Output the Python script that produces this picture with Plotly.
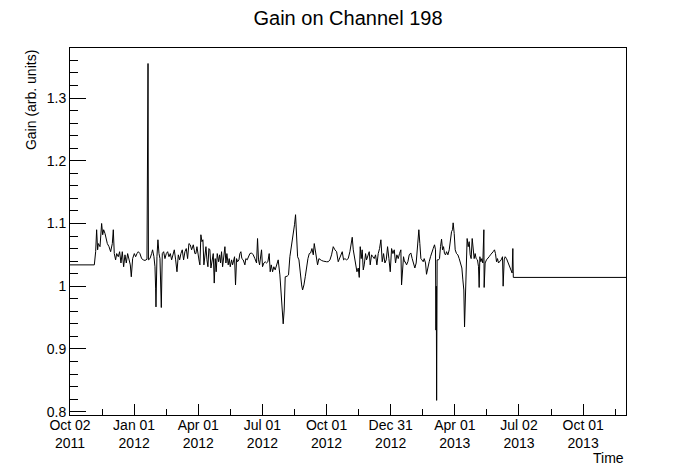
import pandas as pd
import plotly.graph_objects as go

# Gain readings, days counted from 2011-10-02 (start of the time axis)
START = pd.Timestamp("2011-10-02")
AXIS_END_DAY = 791

day_a = [0, 34.6, 36.5, 37.9, 39.3, 40.3, 42.7, 45.0, 46.5, 47.9,
         49.8, 51.2, 53.1, 55.5, 57.8, 60.2, 61.6, 63.0, 64.9, 66.4,
         68.7, 70.6, 72.5, 74.4, 76.3, 78.2, 80.1, 82.0, 83.9, 85.8,
         87.2, 89.1, 91.5, 93.4, 95.3, 97.2, 99.5, 101.9, 104.3, 106.7,
         109.5, 110.0, 110.5, 111.0, 111.6, 113.8, 116.1, 117.5, 119.4, 120.9,
         121.8, 122.3, 123.7, 125.1, 126.6, 128.0, 129.9, 131.3, 133.2, 135.1,
         137.0, 138.9, 140.8, 142.7, 144.6, 146.5, 148.4, 150.3, 152.2, 154.1,
         156.0, 157.8, 159.7, 161.6, 163.5, 165.4, 167.3, 169.2, 171.1, 173.0,
         175.4, 177.7]
gain_a = [1.034, 1.034, 1.055, 1.090, 1.058, 1.068, 1.063, 1.100, 1.082, 1.090,
          1.084, 1.074, 1.068, 1.063, 1.055, 1.068, 1.090, 1.052, 1.042, 1.052,
          1.047, 1.055, 1.037, 1.055, 1.031, 1.050, 1.037, 1.052, 1.044, 1.034,
          1.015, 1.044, 1.052, 1.047, 1.052, 1.055, 1.052, 1.044, 1.042, 1.041,
          1.043, 1.195, 1.045, 1.355, 1.042, 1.044, 1.052, 1.058, 1.047, 1.031,
          0.997, 0.967, 1.047, 1.074, 1.052, 1.044, 0.966, 1.052, 1.055, 1.044,
          1.052, 1.055, 1.047, 1.052, 1.042, 1.052, 1.058, 1.042, 1.023, 1.050,
          1.042, 1.052, 1.058, 1.042, 1.055, 1.060, 1.044, 1.068, 1.066, 1.058,
          1.066, 1.052]

day_b = [179.1, 180.6, 182.0, 183.9, 184.8, 186.2, 187.7, 189.1, 190.5, 191.9,
         193.4, 194.8, 196.2, 197.6, 199.0, 200.5, 201.9, 203.8, 205.2, 206.6,
         208.0, 209.5, 211.4, 212.8, 214.2, 215.6, 217.1, 219.0, 220.4, 221.8,
         223.2, 225.1, 226.5, 228.0, 229.9, 231.3, 232.7, 234.1, 235.5, 237.0,
         238.4, 240.3, 241.7, 243.1, 244.5, 246.4, 248.8, 250.2, 252.1, 254.0,
         255.9, 258.3, 260.7, 263.0, 265.4, 266.8, 268.2, 269.7, 271.1, 272.5,
         273.9, 275.8, 277.7, 279.6, 281.5, 283.4, 284.8, 286.3, 288.2, 290.0,
         291.9, 293.8, 296.2, 298.6, 300.0, 301.4, 303.3, 304.7, 306.2, 309.0,
         310.9, 312.8, 315.2, 317.5, 319.4, 320.9, 322.3]
gain_b = [1.052, 1.063, 1.050, 1.039, 1.034, 1.082, 1.071, 1.074, 1.034, 1.052,
          1.063, 1.042, 1.031, 1.060, 1.058, 1.029, 1.042, 1.052, 1.005, 1.044,
          1.023, 1.052, 1.039, 1.050, 1.037, 1.055, 1.031, 1.052, 1.063, 1.037,
          1.052, 1.034, 1.044, 1.031, 1.042, 1.034, 1.039, 1.047, 1.002, 1.044,
          1.039, 1.042, 1.052, 1.055, 1.044, 1.042, 1.034, 1.044, 1.042, 1.047,
          1.052, 1.053, 1.050, 1.044, 1.037, 1.076, 1.042, 1.034, 1.052, 1.058,
          1.031, 1.037, 1.039, 1.037, 1.039, 1.052, 1.023, 1.034, 1.023, 1.031,
          1.026, 1.034, 1.042, 1.018, 0.994, 0.978, 0.940, 0.962, 1.015, 1.016,
          1.018, 1.047, 1.063, 1.084, 1.098, 1.114, 1.090]

day_c = [323.8, 325.7, 327.6, 329.5, 330.9, 332.8, 334.7, 336.6, 338.5, 340.4,
         342.3, 344.2, 346.1, 347.5, 348.9, 350.3, 352.2, 354.1, 356.0, 357.9,
         360.3, 362.7, 365.0, 367.4, 369.8, 372.1, 374.5, 376.9, 379.3, 381.6,
         383.5, 385.4, 387.3, 389.2, 391.1, 393.5, 395.8, 398.2, 400.6, 401.5,
         403.0, 404.4, 406.3, 408.2, 410.1, 411.5, 412.9, 414.3, 415.7, 417.2,
         418.6, 420.5, 421.9, 423.8, 425.7, 427.1, 429.0, 430.9, 432.8, 434.7,
         436.6, 438.5, 440.4, 442.3, 444.2, 446.1, 448.0, 449.9, 451.8, 453.7,
         455.6, 457.5, 459.4, 461.3, 463.1, 465.0, 466.9, 468.8, 470.7, 471.7,
         473.1, 474.5, 475.9]
gain_c = [1.047, 1.042, 1.015, 1.002, 0.994, 1.002, 1.015, 1.031, 1.044, 1.052,
          1.053, 1.060, 1.050, 1.068, 1.058, 1.047, 1.034, 1.044, 1.042, 1.041,
          1.040, 1.039, 1.039, 1.039, 1.042, 1.050, 1.063, 1.058, 1.055, 1.039,
          1.044, 1.052, 1.055, 1.042, 1.044, 1.042, 1.044, 1.055, 1.071, 1.078,
          1.058, 1.047, 1.031, 1.023, 1.029, 1.014, 1.063, 1.044, 1.058, 1.026,
          1.034, 1.052, 1.042, 1.047, 1.055, 1.034, 1.050, 1.047, 1.044, 1.050,
          1.034, 1.052, 1.060, 1.074, 1.039, 1.052, 1.037, 1.042, 1.063, 1.044,
          1.023, 1.060, 1.052, 1.058, 1.037, 1.050, 1.044, 1.052, 1.058, 1.002,
          1.037, 1.047, 1.039]

day_d = [476.9, 478.8, 480.7, 482.6, 484.9, 486.8, 488.7, 490.6, 492.5, 494.4,
         496.3, 497.7, 499.2, 500.6, 502.5, 503.9, 505.8, 507.2, 509.1, 511.0,
         512.9, 514.8, 516.7, 518.6, 520.0, 520.6, 521.1, 521.6, 522.3, 524.3,
         525.7, 527.1, 528.6, 530.0, 531.4, 532.8, 534.2, 535.7, 537.6, 539.5,
         541.3, 542.8, 544.2, 545.1, 546.6, 548.0, 549.9, 551.8, 553.7, 555.6,
         557.5, 558.9, 560.3, 561.3, 562.2, 563.6, 565.0, 566.5, 567.9, 569.3,
         570.7, 572.2, 573.6, 575.0, 576.4, 577.8, 579.7, 581.2, 582.1, 583.1,
         584.5, 585.9, 587.3, 588.8, 589.2, 590.6, 592.5, 594.4, 596.3, 598.2,
         600.1, 602.0, 603.9, 605.3, 606.8, 608.2, 609.6, 611.5, 613.4, 615.3,
         616.2, 617.7, 619.1, 621.0, 622.9, 624.8, 626.2, 627.6, 629.0, 630.0,
         630.7, 791]
gain_d = [1.039, 1.034, 1.039, 1.050, 1.053, 1.044, 1.034, 1.029, 1.037, 1.063,
          1.090, 1.068, 1.044, 1.042, 1.039, 1.044, 1.037, 1.019, 1.031, 1.039,
          1.047, 1.052, 1.060, 1.066, 1.058, 0.930, 1.000, 0.818, 1.042, 1.042,
          1.044, 1.063, 1.075, 1.058, 1.063, 1.052, 1.050, 1.055, 1.050, 1.058,
          1.079, 1.087, 1.090, 1.101, 1.084, 1.058, 1.052, 1.050, 1.044, 1.037,
          1.029, 1.010, 0.994, 0.935, 0.978, 1.037, 1.076, 1.063, 1.071, 1.050,
          1.044, 1.076, 1.063, 1.044, 1.052, 1.044, 1.042, 1.031, 0.998, 1.047,
          1.039, 1.044, 1.037, 1.090, 0.998, 1.037, 1.042, 1.044, 1.047, 1.050,
          1.052, 1.055, 1.058, 1.052, 1.039, 1.044, 1.037, 1.039, 1.042, 1.047,
          1.000, 1.042, 1.047, 1.044, 1.039, 1.031, 1.029, 1.026, 1.021, 1.060,
          1.014, 1.014]

# time axis ticks (ROOT spaces them evenly, ~91.25 days apart)
tick_days = [0, 91.25, 182.5, 273.75, 365, 456.25, 547.5, 638.75, 730]
minor_tick_days = [45.6, 136.9, 228.1, 319.4, 410.6, 501.9, 593.1, 684.4, 775.6]
tick_labels = ["Oct 02<br>2011", "Jan 01<br>2012", "Apr 01<br>2012", "Jul 01<br>2012",
               "Oct 01<br>2012", "Dec 31<br>2012", "Apr 01<br>2013", "Jul 02<br>2013",
               "Oct 01<br>2013"]

days = day_a + day_b + day_c + day_d
gains = gain_a + gain_b + gain_c + gain_d
assert len(days) == len(gains)


def to_dates(d):
    return START + pd.to_timedelta(d, unit="D")


FONT = "Liberation Sans, Arial, sans-serif"
# the page body keeps the browser's 8px margin, so the figure is 8px smaller
W, H = 688, 464

fig = go.Figure()
fig.add_trace(go.Scatter(
    x=to_dates(days), y=gains, mode="lines",
    line=dict(color="black", width=1), showlegend=False,
))

fig.update_layout(
    width=W, height=H,
    margin=dict(l=62, r=70, t=40, b=57),
    paper_bgcolor="white", plot_bgcolor="white",
    font=dict(family=FONT, color="black"),
    title=dict(text="Gain on Channel 198", x=(348 - 8) / W, xanchor="center",
               y=1 - 10 / H, yanchor="middle", font=dict(size=20)),
    xaxis=dict(
        type="date",
        range=[to_dates([0])[0], to_dates([AXIS_END_DAY])[0]],
        tickmode="array", tickvals=to_dates(tick_days), ticktext=tick_labels,
        ticks="inside", ticklen=11, tickcolor="black",
        minor=dict(tickmode="array", tickvals=to_dates(minor_tick_days),
                   ticks="inside", ticklen=6, tickcolor="black"),
        showline=True, linecolor="black", linewidth=1, mirror=True,
        showgrid=False, zeroline=False, tickfont=dict(size=14),
        ticklabelstandoff=-3,
    ),
    yaxis=dict(
        range=[0.7947, 1.3797], tick0=0.8, dtick=0.1,
        ticks="inside", ticklen=16, tickcolor="black",
        minor=dict(dtick=0.02, ticks="inside", ticklen=8, tickcolor="black"),
        showline=True, linecolor="black", linewidth=1, mirror=True,
        showgrid=False, zeroline=False, tickfont=dict(size=14),
    ),
)

fig.add_annotation(text="Gain (arb. units)", xref="paper", yref="paper",
                   x=-0.07, y=1, xanchor="center", yanchor="top",
                   textangle=-90, showarrow=False, font=dict(size=14))
fig.add_annotation(text="Time", xref="paper", yref="paper",
                   x=1, y=-0.117, xanchor="right", yanchor="middle",
                   showarrow=False, font=dict(size=14))

fig.write_html("out.html")
